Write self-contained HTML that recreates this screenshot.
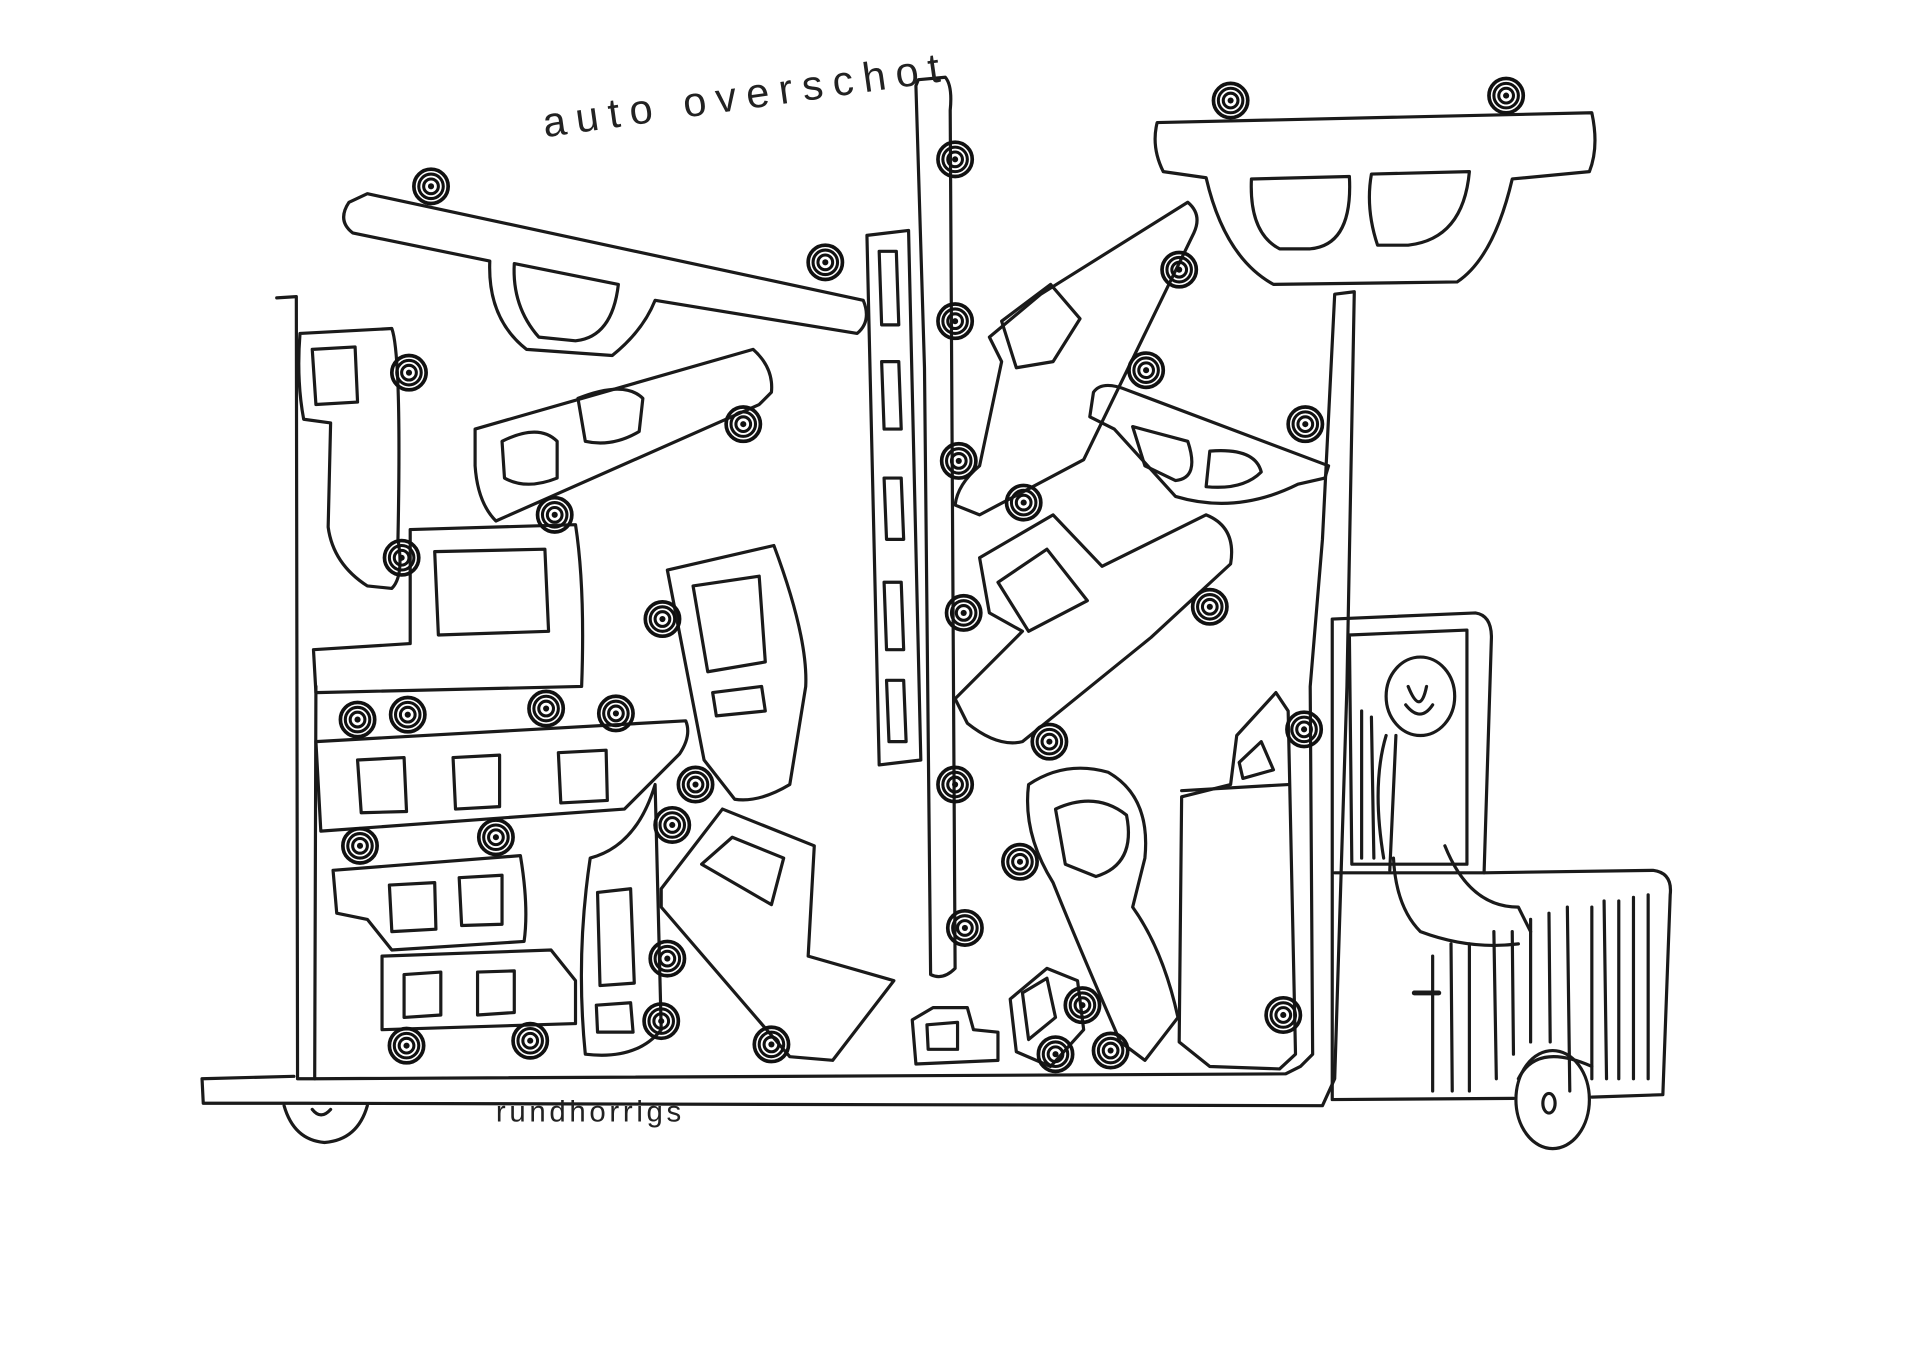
<!DOCTYPE html>
<html><head><meta charset="utf-8"><style>
html,body{margin:0;padding:0;background:#fff;}
svg{display:block;}
text{font-family:"Liberation Sans",sans-serif;fill:#222;}
</style></head><body>
<svg width="1920" height="1357" viewBox="0 0 1568 1107" preserveAspectRatio="none" xmlns="http://www.w3.org/2000/svg">
<rect width="1568" height="1107" fill="#fff"/>
<defs>
<g id="w"><circle r="14" fill="none" stroke="#111" stroke-width="3"/><circle r="10" fill="none" stroke="#111" stroke-width="2.5"/><circle r="6" fill="none" stroke="#111" stroke-width="2.5"/><circle r="2.5" fill="#111"/></g>
</defs>
<g fill="none" stroke="#1a1a1a" stroke-width="2.6" stroke-linejoin="round" stroke-linecap="round">
<path d="M226 243 L242 242 L243 880 L258 880 L1050 876 L1062 870 L1072 860 L1070 560 L1080 440 L1090 240 L1106 238 L1100 560 L1090 880 L1080 902 L250 900 L166 900 L165 880 L240 878"/>
<path d="M257 880 L258 560"/>
<path d="M232 902 Q240 930 265 932 Q292 930 300 902"/><path d="M255 905 Q262 914 270 905"/>
<path d="M1088 505 L1205 500 Q1218 502 1218 520 L1212 712 L1350 710 Q1366 712 1364 730 L1358 893 L1300 895 M1236 896 L1088 897 L1088 505"/>
<path d="M1102 518 L1198 514 L1198 705 L1104 705 Z"/>
<path d="M1090 712 L1212 712"/>
<ellipse cx="1268" cy="897" rx="30" ry="40"/><ellipse cx="1265" cy="900" rx="5" ry="8"/>
<path d="M1240 880 Q1255 850 1300 870"/>
<path d="M1300 740 L1300 880 M1310 735 L1312 880 M1322 735 L1322 880 M1334 732 L1334 880 M1346 730 L1346 880 M1280 740 L1282 890 M1265 745 L1266 850 M1250 750 L1250 850 M1235 760 L1236 860 M1220 760 L1222 880 M1200 770 L1200 890 M1185 770 L1186 890 M1170 780 L1170 890"/>
<path d="M1155 810 L1175 810" stroke-width="4"/>
<ellipse cx="1160" cy="568" rx="28" ry="32"/><path d="M1150 560 Q1160 585 1165 560 M1148 575 Q1160 590 1170 575"/>
<path d="M1132 600 Q1120 640 1130 700 M1140 600 L1135 710 M1138 700 Q1140 740 1160 760 Q1200 775 1240 770 M1180 690 Q1200 740 1240 740 L1250 760"/>
<path d="M1112 580 L1112 700 M1120 585 L1122 700"/>
<path d="M945 100 L1300 92 Q1306 120 1298 140 L1235 146 Q1220 210 1190 230 L1040 232 Q1000 210 985 145 L950 140 Q940 120 945 100 Z"/>
<path d="M1022 146 L1102 144 Q1105 200 1070 203 L1045 203 Q1020 190 1022 146 Z M1120 142 L1200 140 Q1195 195 1150 200 L1125 200 Q1115 170 1120 142 Z"/>
<path d="M285 165 Q275 180 288 190 L400 213 Q398 260 430 285 L500 290 Q525 270 535 245 L700 272 Q712 262 705 245 L300 158 Z"/>
<path d="M420 215 L505 232 Q500 275 470 278 L440 275 Q418 250 420 215 Z"/>
<path d="M750 65 L772 63 Q778 70 776 90 L780 790 Q770 800 760 795 L755 300 L748 70 Z"/>
<path d="M708 192 L742 188 L752 620 L718 624 Z"/>
<path d="M718 205 L732 205 L734 265 L720 265 Z M720 295 L734 295 L736 350 L722 350 Z M722 390 L736 390 L738 440 L724 440 Z M722 475 L736 475 L738 530 L724 530 Z M724 555 L738 555 L740 605 L726 605 Z"/>
<path d="M245 272 L320 268 Q328 290 325 440 Q330 470 320 480 L300 478 Q272 460 268 430 L270 345 L248 342 Q242 310 245 272 Z"/>
<path d="M255 285 L290 283 L292 328 L258 330 Z"/>
<path d="M388 350 L615 285 Q632 300 630 320 L620 330 L405 425 Q390 410 388 380 Z"/>
<path d="M410 360 Q440 345 455 360 L455 390 Q430 400 412 390 Z M472 325 Q510 310 525 325 L522 352 Q500 365 478 360 Z"/>
<path d="M335 432 L470 428 Q478 480 475 560 L258 565 L256 530 L335 525 Z"/>
<path d="M355 450 L445 448 L448 515 L358 518 Z"/>
<path d="M258 605 L560 588 Q565 600 555 615 Q530 640 510 660 L262 678 Z"/>
<path d="M292 620 L330 618 L332 662 L295 663 Z M370 618 L408 616 L408 658 L372 660 Z M456 614 L495 612 L496 653 L458 655 Z"/>
<path d="M272 710 L425 698 Q432 740 428 768 L320 775 L300 750 L275 745 Z"/>
<path d="M318 722 L355 720 L356 758 L320 760 Z M375 716 L410 714 L410 754 L377 755 Z"/>
<path d="M312 780 L450 775 L470 800 L470 835 L312 840 Z"/>
<path d="M330 795 L360 793 L360 828 L330 830 Z M390 793 L420 792 L420 826 L390 828 Z"/>
<path d="M545 465 L632 445 Q660 520 658 560 L645 640 Q620 655 600 652 L575 620 L545 465 Z"/>
<path d="M566 478 L620 470 L625 540 L578 548 Z M582 565 L622 560 L625 580 L585 584 Z"/>
<path d="M482 700 Q520 690 535 640 L540 840 Q520 865 478 860 Q470 780 482 700 Z"/>
<path d="M488 728 L515 725 L518 802 L490 804 Z M487 820 L515 818 L517 842 L488 842 Z"/>
<path d="M540 725 L590 660 L665 690 L660 780 L730 800 L680 865 L645 862 L540 740 Z"/>
<path d="M573 705 L598 683 L640 700 L630 738 Z"/>
<path d="M745 832 L762 822 L790 822 L795 840 L815 842 L815 865 L748 868 Z"/>
<path d="M757 836 L782 834 L782 856 L758 856 Z"/>
<path d="M825 815 L855 790 L880 800 L885 840 L858 870 L830 858 Z"/>
<path d="M835 810 L855 798 L862 830 L840 848 Z"/>
<path d="M850 240 L970 165 Q982 175 975 190 L885 375 L800 420 L780 412 Q782 395 800 380 L818 295 L808 275 Z"/>
<path d="M818 262 L858 232 L882 260 L860 295 L830 300 Z"/>
<path d="M893 320 Q900 310 920 318 L1085 380 L1082 390 L1060 395 Q1010 420 960 405 L910 350 L890 340 Z"/>
<path d="M925 348 L970 360 Q980 390 960 392 L935 380 Z M988 368 Q1025 365 1030 385 Q1015 400 985 397 Z"/>
<path d="M800 455 L860 420 L900 462 L985 420 Q1010 430 1005 460 L940 520 L835 605 Q815 610 790 590 L780 570 L835 515 L808 500 Z"/>
<path d="M815 475 L855 448 L888 490 L840 515 Z"/>
<path d="M840 640 Q870 620 905 630 Q940 650 935 700 L925 740 Q950 775 962 830 L935 865 L915 850 Q880 770 860 720 Q835 680 840 640 Z"/>
<path d="M862 660 Q895 645 920 665 Q928 705 895 715 L870 705 Z"/>
<path d="M965 650 L1005 640 L1010 600 L1042 565 L1052 580 L1058 860 L1045 872 L988 870 L963 850 Z"/>
<path d="M1012 622 L1030 605 L1040 628 L1015 635 Z"/>
<path d="M965 645 L1052 640"/>
</g>
<g>
<use href="#w" x="352" y="152"/><use href="#w" x="674" y="214"/><use href="#w" x="1005" y="82"/><use href="#w" x="1230" y="78"/>
<use href="#w" x="780" y="130"/><use href="#w" x="780" y="262"/><use href="#w" x="783" y="376"/><use href="#w" x="787" y="500"/><use href="#w" x="780" y="640"/><use href="#w" x="788" y="757"/>
<use href="#w" x="334" y="304"/><use href="#w" x="607" y="346"/><use href="#w" x="453" y="420"/><use href="#w" x="328" y="455"/>
<use href="#w" x="541" y="505"/><use href="#w" x="292" y="587"/><use href="#w" x="333" y="583"/><use href="#w" x="446" y="578"/><use href="#w" x="503" y="582"/>
<use href="#w" x="294" y="690"/><use href="#w" x="405" y="683"/><use href="#w" x="568" y="640"/><use href="#w" x="549" y="673"/>
<use href="#w" x="545" y="782"/><use href="#w" x="540" y="833"/><use href="#w" x="332" y="853"/><use href="#w" x="433" y="849"/><use href="#w" x="630" y="852"/>
<use href="#w" x="963" y="220"/><use href="#w" x="936" y="302"/><use href="#w" x="1066" y="346"/><use href="#w" x="836" y="410"/><use href="#w" x="988" y="495"/>
<use href="#w" x="857" y="605"/><use href="#w" x="1065" y="595"/><use href="#w" x="833" y="703"/><use href="#w" x="884" y="820"/><use href="#w" x="907" y="857"/><use href="#w" x="862" y="860"/><use href="#w" x="1048" y="828"/>
</g>
<text x="445" y="112" font-size="34" transform="rotate(-8 445 112)" letter-spacing="8">auto overschot</text>
<text x="405" y="915" font-size="24" letter-spacing="3">rundhorrigs</text>
</svg>
</body></html>
